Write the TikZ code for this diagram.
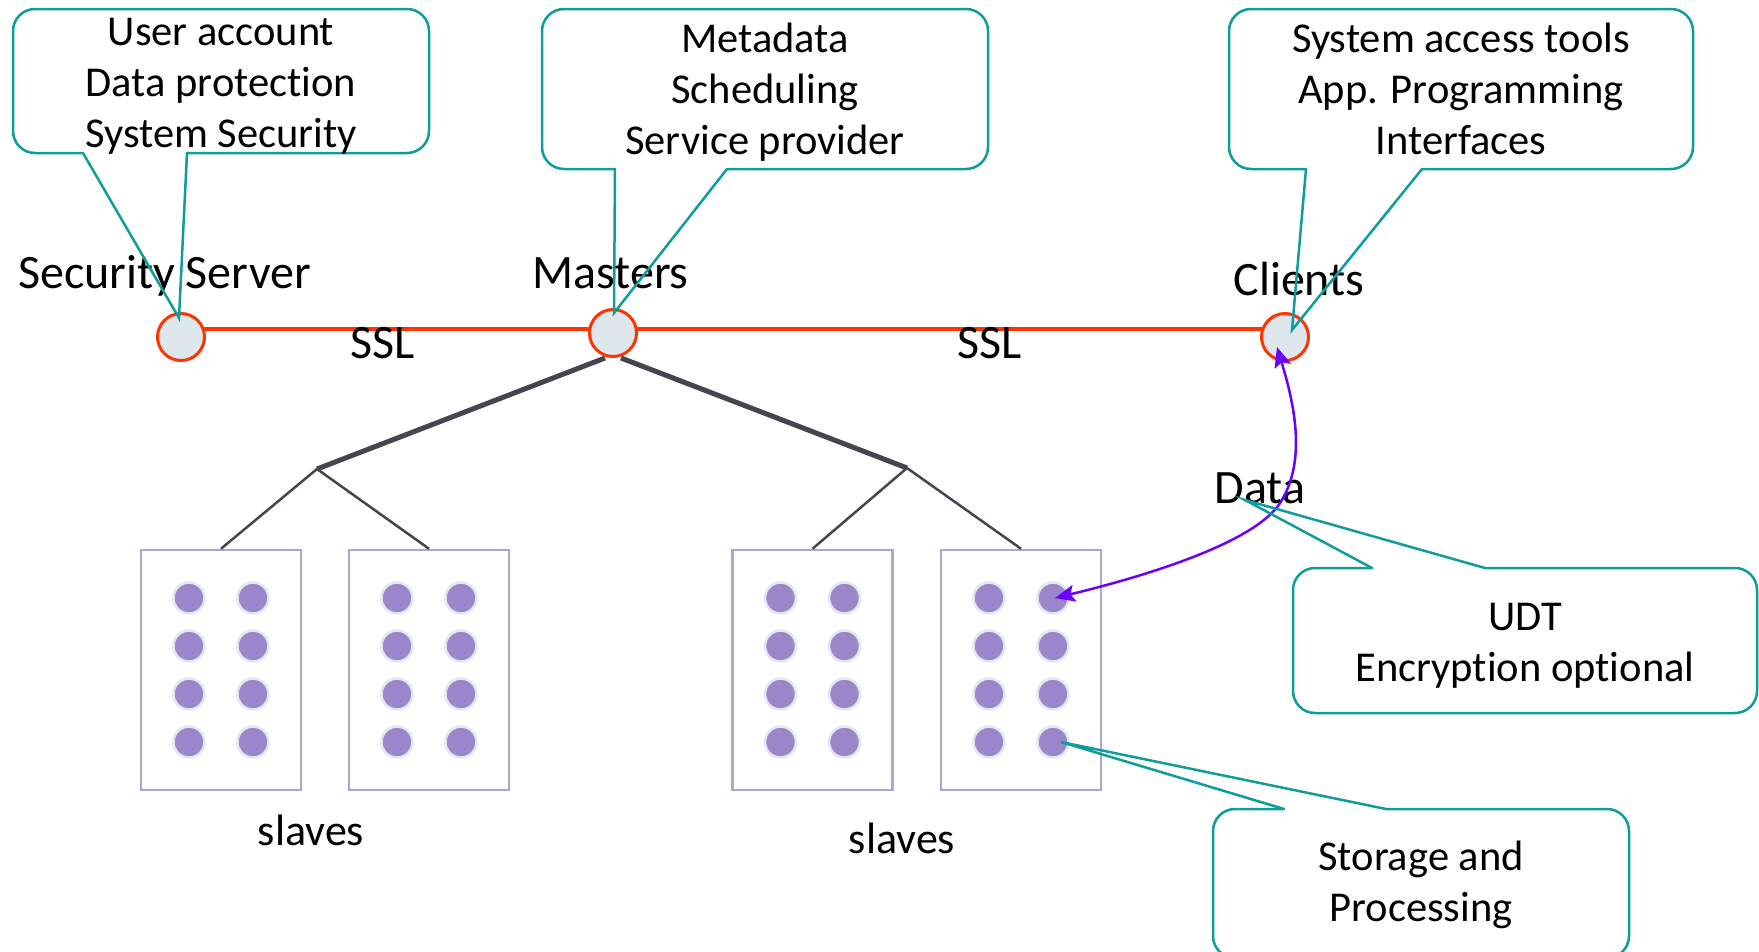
\documentclass[tikz,border=0pt]{standalone}
\usepackage{fontspec}
\setmainfont{Carlito}[Ligatures=NoCommon]
\usetikzlibrary{arrows.meta}
\pgfdeclarelayer{bg}
\pgfsetlayers{bg,main}
\definecolor{cred}{HTML}{FF3300}
\definecolor{chub}{HTML}{DDE7EC}
\definecolor{cteal}{HTML}{0E9C9C}
\definecolor{cviolet}{HTML}{6A00FF}
\definecolor{cdot}{HTML}{9A86C8}
\definecolor{cring}{HTML}{DEE8EE}
\definecolor{cbox}{HTML}{ABA4D4}
\definecolor{cdark}{HTML}{46454F}
\begin{document}
\begin{tikzpicture}[x=1pt,y=-1pt,
  lab/.style={font=\fontsize{48}{58}\selectfont, inner sep=0pt, anchor=base},
  slab/.style={font=\fontsize{44}{53}\selectfont, inner sep=0pt, anchor=base},
  ctext/.style={font=\fontsize{42.5}{51}\selectfont, inner sep=0pt, anchor=base},
  callout/.style={draw=cteal, line width=2.5pt, line cap=round},
  hub/.style={circle, draw=cred, fill=chub, line width=3pt, minimum size=47pt, inner sep=0pt},
  rack/.style={draw=cbox, line width=2.5pt, minimum width=160pt, minimum height=240pt, inner sep=0pt},
  slavedot/.style={circle, fill=cdot, draw=cring, line width=2.5pt, minimum size=31pt, inner sep=0pt},
  redline/.style={draw=cred, line width=3.2pt},
  trunk/.style={draw=cdark, line width=5pt},
  branch/.style={draw=cdark, line width=2.5pt},
  dataarrow/.style={draw=cviolet, line width=2.5pt, {Stealth[length=20pt,width=17pt,inset=4pt]}-{Stealth[length=20pt,width=17pt,inset=4pt]}}
]
\useasboundingbox (0,0) rectangle (1759,951);
\clip (0,0) rectangle (1759,951);

% hubs
\node[hub] (sec) at (181,337) {};
\node[hub] (mas) at (613,333) {};
\node[hub] (cli) at (1285,337) {};

\begin{pgfonlayer}{bg}
\draw[redline] ([yshift=8pt]sec.center) -- ([yshift=4pt]mas.center) -- ([yshift=8pt]cli.center);
\end{pgfonlayer}

% labels
\node[lab] (secl) at (164.5,288) {Security Server};
\node[lab] (masl) at (610.5,288) {Masters};
\node[lab] (clil) at (1299,295) {Clients};
\node[lab] (ssl1) at (382.5,358) {SSL};
\node[lab] (ssl2) at (989.5,358) {SSL};
\node[lab] (datal) at (1260,503) {Data};
\node[slab] (sl1) at (311,845) {slaves};
\node[slab] (sl2) at (902,853) {slaves};

% racks and slave dots
\foreach \r/\cx in {1/221, 2/429, 3/812.5, 4/1021} {
  \node[rack] (r\r) at (\cx,670) {};
  \foreach \i/\dy in {1/-72, 2/-24, 3/24, 4/72} {
    \node[slavedot] (d\r-\i-1) at (\cx-32,670+\dy) {};
    \node[slavedot] (d\r-\i-2) at (\cx+32,670+\dy) {};
  }
}

% tree
\coordinate (j1) at (317,469);
\coordinate (j2) at (907,468);
\draw[trunk] ([xshift=-8pt]mas.south) -- (j1);
\draw[trunk] ([xshift=8pt]mas.south) -- (j2);
\draw[branch] (j1) -- (r1.north);
\draw[branch] (j1) -- (r2.north);
\draw[branch] (j2) -- (r3.north);
\draw[branch] (j2) -- (r4.north);

% data arrow
\draw[dataarrow] ([shift={(-8pt,-10pt)}]cli.center) .. controls (1293,400) and (1308,460) .. (1280,503)
  .. controls (1255,542) and (1150,575) .. ([xshift=2pt]d4-1-2.center);

% callout 1
\coordinate (t1) at ([shift={(-2pt,19pt)}]sec.center);
\draw[callout, rounded corners=22pt] (83,153) -- (13,153) -- (13,9) -- (429,9) -- (429,153) -- (187,153);
\draw[callout] (83,153) -- (t1) -- (187,153);
\node[ctext] (c1) at (221,45) {\begin{tabular}[t]{@{}c@{}}User account\\Data protection\\System Security\end{tabular}};

% callout 2
\coordinate (t2) at ([shift={(1pt,20pt)}]mas.center);
\draw[callout, rounded corners=22pt] (615,169) -- (542,169) -- (542,9) -- (988,9) -- (988,169) -- (727,169);
\draw[callout] (615,169) -- (t2) -- (727,169);
\node[ctext] (c2) at (765,52) {\begin{tabular}[t]{@{}c@{}}Metadata\\Scheduling\\Service provider\end{tabular}};

% callout 3
\coordinate (t3) at ([shift={(7pt,7pt)}]cli.center);
\draw[callout, rounded corners=22pt] (1306,169) -- (1229,169) -- (1229,9) -- (1693,9) -- (1693,169) -- (1422,169);
\draw[callout] (1306,169) -- (t3) -- (1422,169);
\node[ctext] (c3) at (1461,52) {\begin{tabular}[t]{@{}c@{}}System access tools\\App. Programming\\Interfaces\end{tabular}};

% callout UDT
\coordinate (t4) at (1245,500);
\draw[callout, rounded corners=22pt] (1372,568) -- (1293,568) -- (1293,713) -- (1757,713) -- (1757,568) -- (1485,568);
\draw[callout] (1372,568) -- (t4) -- (1485,568);
\node[ctext] (c4) at (1525,630) {\begin{tabular}[t]{@{}c@{}}UDT\\Encryption optional\end{tabular}};

% callout storage
\coordinate (t5) at ([xshift=8pt]d4-4-2.center);
\draw[callout, rounded corners=22pt] (1284,809) -- (1213,809) -- (1213,958) -- (1629,958) -- (1629,809) -- (1386,809);
\draw[callout] (1284,809) -- (t5) -- (1386,809);
\node[ctext] (c5) at (1421,870) {\begin{tabular}[t]{@{}c@{}}Storage and\\Processing\end{tabular}};
\end{tikzpicture}
\end{document}
